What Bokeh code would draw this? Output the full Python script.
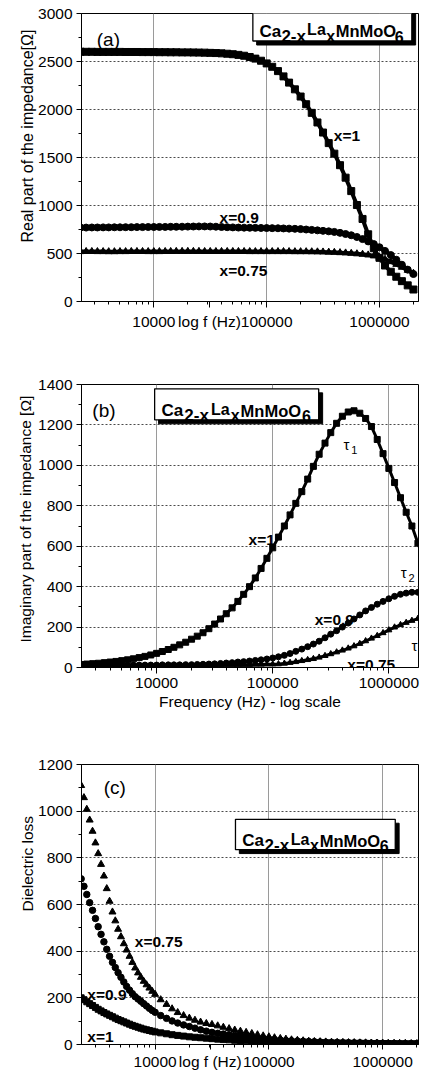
import math
from bokeh.plotting import figure
from bokeh.layouts import column
from bokeh.models import Range1d, FixedTicker, PrintfTickFormatter, Label, BoxAnnotation, Title
from bokeh.embed import file_html
from bokeh.resources import INLINE

# ---------------- data ----------------
FREQ_HZ = [2240, 2510, 2820, 3160, 3550, 3980, 4470, 5010, 5620, 6310, 7080, 7940, 8910,
           10000, 11200, 12600, 14100, 15800, 17800, 20000, 22400, 25100, 28200, 31600,
           35500, 39800, 44700, 50100, 56200, 63100, 70800, 79400, 89100,
           100000, 112000, 126000, 141000, 158000, 178000, 200000, 224000, 251000, 282000,
           316000, 355000, 398000, 447000, 501000, 562000, 631000, 708000, 794000, 891000,
           1000000, 1120000, 1260000, 1410000, 1580000, 1780000, 2000000]

FREQ_C_HZ = [2240, 2370, 2510, 2660, 2820, 2990, 3160, 3350, 3550, 3760, 3980, 4220, 4470,
             4730, 5010, 5310, 5620, 5960, 6310, 6680, 7080, 7500, 7940, 8410, 8910, 9440, 10000,
             11200, 12600, 14100, 15800, 17800, 20000, 22400, 25100, 28200, 31600,
             35500, 39800, 44700, 50100, 56200, 63100, 70800, 79400, 89100,
             100000, 112000, 126000, 141000, 158000, 178000, 200000, 224000, 251000, 282000,
             316000, 355000, 398000, 447000, 501000, 562000, 631000, 708000, 794000, 891000,
             1000000, 1120000, 1260000, 1410000, 1580000, 1780000, 2000000]

# (a) real part of the impedance [Ohm]
A_X1 = [2602, 2601, 2601, 2600, 2600, 2600, 2600, 2600, 2599, 2599, 2599, 2598, 2598, 2598,
        2597, 2597, 2596, 2596, 2595, 2595, 2594, 2593, 2592, 2590,
        2588, 2585, 2581, 2576, 2569, 2560, 2547, 2530, 2508, 2480,
        2445, 2400, 2345, 2280, 2210, 2135, 2055, 1965, 1865, 1760,
        1650, 1540, 1420, 1290, 1150, 1005, 860, 700, 555, 455,
        375, 310, 258, 212, 168, 125]
A_X09 = [770, 770, 771, 771, 772, 772, 773, 773, 774, 774,
         775, 775, 776, 776, 777, 777, 778, 778, 779, 780,
         781, 782, 782, 781, 779, 776, 774, 772, 770, 769,
         768, 767, 766, 765, 764, 763, 761, 759, 757, 754,
         750, 746, 741, 736, 731, 725, 715, 703, 690, 672,
         650, 626, 598, 565, 527, 484, 435, 383, 332, 286]
A_X075 = [520, 521, 521, 520, 520, 519, 519, 520, 520, 521,
          521, 521, 520, 520, 520, 521, 521, 522, 522, 522,
          522, 522, 521, 521, 521, 521, 521, 521, 521, 521,
          520, 520, 520, 520, 520, 520, 520, 520, 519, 519,
          519, 518, 517, 516, 514, 512, 509, 506, 502, 497,
          492, 485, 475, 460, 440, 415, 387, 357, 325, 294]

# (b) imaginary part of the impedance [Ohm]
B_X1 = [15, 17, 19, 21, 24, 27, 30, 34, 38, 43,
        49, 55, 62, 70, 79, 89, 100, 112, 125, 140,
        155, 172, 192, 215, 240, 266, 295, 327, 362, 400,
        443, 490, 540, 592, 645, 700, 755, 812, 870, 932,
        995, 1055, 1110, 1162, 1208, 1243, 1264, 1270, 1258, 1232,
        1192, 1128, 1058, 985, 915, 840, 768, 700, 615, 535]
B_X09 = [10, 10, 10, 10, 11, 11, 11, 11, 11, 12, 12, 12, 12, 12,
         13, 13, 13, 13, 14, 14, 15, 16, 17, 18,
         20, 22, 24, 27, 29, 32, 35, 38, 42, 47,
         53, 60, 69, 80, 91, 103, 116, 130, 147, 165,
         182, 200, 220, 240, 260, 280, 297, 313, 327, 340,
         352, 362, 368, 372, 372, 368]
B_X075 = [8, 8, 8, 8, 8, 8, 8, 9, 9, 9, 9, 9, 9, 9,
          9, 9, 10, 10, 10, 10, 10, 11, 11, 11,
          12, 12, 13, 13, 14, 14, 15, 15, 16, 16,
          17, 20, 24, 28, 33, 38, 43, 50, 58, 67,
          76, 85, 95, 106, 118, 131, 144, 157, 171, 185,
          199, 211, 222, 232, 242, 250]

# (c) dielectric loss
C_X1 = [200, 192, 183, 175, 167, 159, 151, 144, 137, 131, 125, 119, 113, 107, 102, 97, 92,
        87, 82, 78, 74, 70, 66, 63, 60, 57, 54,
        50, 46, 42, 39, 36, 33, 31, 29, 27, 25, 23, 21, 20, 18, 17, 16, 15, 14, 13, 12,
        11, 10, 10, 9, 9, 8, 8, 7, 7, 7, 6, 6, 6, 5, 5, 5, 5, 4, 4, 4, 4, 3, 3, 3, 3, 3]
C_X09 = [710, 678, 643, 608, 575, 540, 505, 472, 440, 408, 378, 352, 330, 308, 288, 268, 249,
         233, 218, 205, 195, 185, 175, 165, 155, 146, 138,
         124, 112, 101, 92, 84, 77, 70, 63, 57, 52, 48, 45, 42, 39, 36, 34, 31, 28, 25, 23,
         21, 19, 17, 16, 15, 14, 13, 12, 11, 10, 9, 9, 8, 8, 7, 7, 6, 6, 6, 5, 5, 5, 4, 4, 4, 4]
C_X075 = [1110, 1058, 1008, 962, 914, 864, 818, 772, 722, 668, 614, 568, 530, 494, 462, 432,
          405, 378, 352, 328, 307, 288, 271, 256, 242, 228, 215,
          192, 172, 153, 137, 124, 113, 104, 96, 90, 86, 80, 74, 68, 62, 57, 52, 47, 42, 37, 33,
          29, 26, 23, 20, 18, 16, 14, 13, 12, 11, 10, 9, 9, 8, 8, 7, 7, 6, 6, 6, 5, 5, 5, 5, 4, 4]

X_MAJOR = [10000, 100000, 1000000]
X_MINOR = [2000, 3000, 4000, 5000, 6000, 7000, 8000, 9000,
           20000, 30000, 40000, 50000, 60000, 70000, 80000, 90000,
           200000, 300000, 400000, 500000, 600000, 700000, 800000, 900000, 2000000, 3000000]
X_TITLE = "log f (Hz)"

FONT = "Liberation Sans"


def calib(xpx_dec, dec_px, y0_px, unit_px):
    """page pixel -> data, from the reference picture geometry (x: px of 1e4)."""
    def cx(px):
        return 10 ** (4 + (px - xpx_dec) / dec_px)

    def cy(py):
        return (y0_px - py) / unit_px
    return cx, cy


def make_fig(h, mbl, mbr, mbt, mbb, xr, ymax, ystep, tick_out, standoff, title_tick=None):
    p = figure(width=422, height=h, x_axis_type="log",
               x_range=Range1d(*xr), y_range=Range1d(0, ymax),
               output_backend="svg", toolbar_location=None,
               min_border_left=mbl, min_border_right=mbr,
               min_border_top=mbt, min_border_bottom=mbb)
    p.background_fill_color = "white"
    p.border_fill_color = "white"
    p.outline_line_color = "black"
    p.outline_line_width = 1
    xa = p.xaxis[0]
    ticks = list(X_MAJOR)
    if title_tick is not None:
        ticks = sorted(ticks + [title_tick])
        xa.major_label_overrides = {title_tick: X_TITLE}
    xa.ticker = FixedTicker(ticks=ticks, minor_ticks=X_MINOR)
    xa.formatter = PrintfTickFormatter(format="%d")
    xa.major_tick_out = tick_out
    xa.major_tick_in = 0
    xa.minor_tick_out = 3
    xa.minor_tick_in = 0
    xa.major_label_standoff = standoff
    ya = p.yaxis[0]
    ya.ticker = FixedTicker(ticks=list(range(0, ymax + 1, ystep)),
                            minor_ticks=list(range(ystep // 2, ymax, ystep)))
    ya.major_tick_out = 5
    ya.major_tick_in = 0
    ya.minor_tick_out = 3
    ya.minor_tick_in = 0
    ya.major_label_standoff = 4
    for ax in (xa, ya):
        ax.axis_line_color = "black"
        ax.major_tick_line_color = "black"
        ax.minor_tick_line_color = "black"
        ax.major_label_text_font = FONT
        ax.major_label_text_font_size = "15.5px"
        ax.major_label_text_color = "black"
    p.xgrid.ticker = FixedTicker(ticks=X_MAJOR)
    p.xgrid.grid_line_color = "#9a9a9a"
    p.xgrid.grid_line_width = 1
    p.ygrid.grid_line_color = "#4a4a4a"
    p.ygrid.grid_line_dash = "2 2"
    p.ygrid.grid_line_width = 1
    return p


def ytitle(p, s, size, offset, standoff):
    p.add_layout(Title(text=s, align="left", offset=offset, standoff=standoff,
                       text_font=FONT, text_font_size=f"{size}px",
                       text_font_style="normal", text_color="black"), "left")


def text(p, cx, cy, px, py, s, size, bold=False, align="left", baseline="alphabetic"):
    p.add_layout(Label(x=cx(px), y=cy(py), text=s, text_font=FONT,
                       text_font_size=f"{size}px",
                       text_font_style="bold" if bold else "normal",
                       text_align=align, text_baseline=baseline,
                       text_color="black"))


def formula_box(p, cx, cy, left, top, w, h):
    sh = 4
    p.add_layout(BoxAnnotation(left=cx(left + sh), right=cx(left + w + sh),
                               top=cy(top + sh), bottom=cy(top + h + sh),
                               fill_color="black", fill_alpha=1.0,
                               line_color="black", line_alpha=1.0))
    p.add_layout(BoxAnnotation(left=cx(left), right=cx(left + w),
                               top=cy(top), bottom=cy(top + h),
                               fill_color="white", fill_alpha=1.0,
                               line_color="black", line_width=1.3, line_alpha=1.0))
    base = top + 0.71 * h
    sub = top + 0.87 * h
    la = base - 1.5
    parts = [("Ca", 7, base, 17), ("2-x", 30, sub, 17), ("La", 57, la, 16),
             ("x", 77, sub, 16), ("MnMoO", 87, base, 16.5), ("6", 149, sub, 16)]
    for s, dx, by, fs in parts:
        text(p, cx, cy, left + dx, by, s, fs, bold=True)


def series(p, f, y, marker, size, line_w):
    if line_w:
        p.line(f, y, line_color="black", line_width=line_w)
    p.scatter(f, y, marker=marker, size=size, fill_color="black", line_color="black")


# ---------------- panel (a) ----------------
cxa, cya = calib(148, 118.5, 309.5, 0.096)
pa = make_fig(337, 64, 4, 13, 36, (cxa(72), cxa(426)), 3000, 500, 6, 5,
              title_tick=round(cxa(206.5)))
series(pa, FREQ_HZ, A_X075, "triangle", 7, 4)
series(pa, FREQ_HZ, A_X09, "circle", 7, 4)
series(pa, FREQ_HZ, A_X1, "square", 7, 4)
ytitle(pa, "Real part of the impedance[Ω]", 16, 59, 0)
text(pa, cxa, cya, 88, 47.5, "(a)", 19)
text(pa, cxa, cya, 337, 143, "x=1", 15.5, bold=True)
text(pa, cxa, cya, 217, 225, "x=0.9", 15.5, bold=True)
text(pa, cxa, cya, 217, 278, "x=0.75", 15.5, bold=True)
formula_box(pa, cxa, cya, 252, 15, 167, 34)

# ---------------- panel (b) ----------------
cxb, cyb = calib(165, 117.5, 675, 0.2024)
pb = make_fig(380, 81, 0, 47, 50, (cxb(89), cxb(430)), 1400, 200, 6, 4)
pb.xaxis[0].axis_label = "Frequency (Hz) - log scale"
pb.xaxis[0].axis_label_text_font = FONT
pb.xaxis[0].axis_label_text_font_size = "15.5px"
pb.xaxis[0].axis_label_text_font_style = "normal"
pb.xaxis[0].axis_label_text_color = "black"
pb.xaxis[0].axis_label_standoff = 2
series(pb, FREQ_HZ, B_X075, "triangle", 6, 3)
series(pb, FREQ_HZ, B_X09, "circle", 6, 3)
series(pb, FREQ_HZ, B_X1, "square", 6, 3)
ytitle(pb, "Imaginary part of the impedance [Ω]", 15.5, 25, 4)
text(pb, cxb, cyb, 100, 417.5, "(b)", 19)
text(pb, cxb, cyb, 258, 546.5, "x=1", 15.5, bold=True)
text(pb, cxb, cyb, 325, 626.5, "x=0.9", 15.5, bold=True)
text(pb, cxb, cyb, 358, 672, "x=0.75", 15.5, bold=True)
text(pb, cxb, cyb, 354, 452, "τ", 15)
text(pb, cxb, cyb, 362, 457, "1", 11)
text(pb, cxb, cyb, 412, 580, "τ", 15)
text(pb, cxb, cyb, 420, 585, "2", 11)
text(pb, cxb, cyb, 423, 653, "τ", 15)
formula_box(pb, cxb, cyb, 163, 396, 166, 31)

# ---------------- panel (c) ----------------
cxc, cyc = calib(158, 117.5, 1063, 0.2383)
pc = make_fig(355, 74, 0, 47, 25, (cxc(82), cxc(430)), 1200, 200, 5, 3,
              title_tick=round(cxc(215)))
series(pc, FREQ_C_HZ, C_X1, "square", 6, 0)
series(pc, FREQ_C_HZ, C_X09, "circle", 6.5, 0)
series(pc, FREQ_C_HZ, C_X075, "triangle", 7, 0)
ytitle(pc, "Dielectric loss", 15.5, 133, 0)
text(pc, cxc, cyc, 105, 801, "(c)", 19)
text(pc, cxc, cyc, 137, 958, "x=0.75", 15.5, bold=True)
text(pc, cxc, cyc, 88, 1011.5, "x=0.9", 15.5, bold=True)
text(pc, cxc, cyc, 88, 1055, "x=1", 15.5, bold=True)
formula_box(pc, cxc, cyc, 241, 833, 165, 31)

layout = column(pa, pb, pc, spacing=0)
open("out.html", "w").write(file_html(layout, INLINE))
